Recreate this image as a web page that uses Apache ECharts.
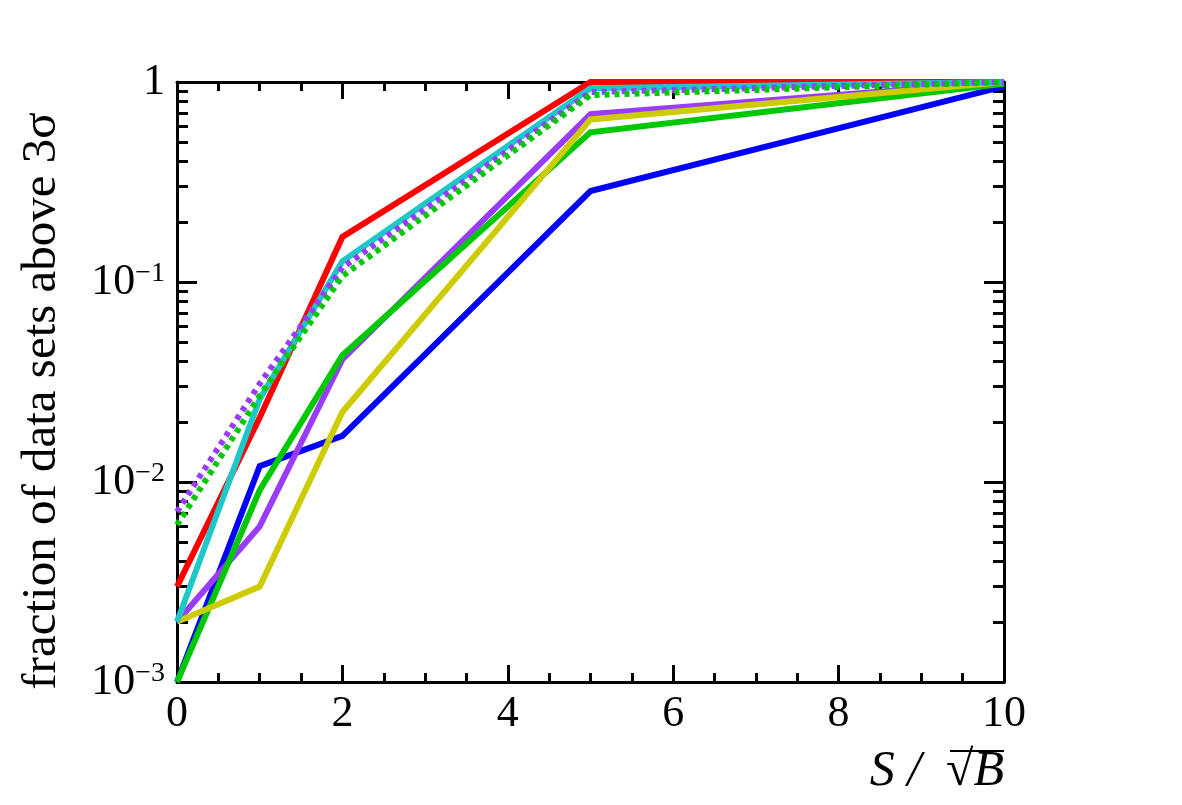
<!DOCTYPE html>
<html>
<head>
<meta charset="utf-8">
<script src="https://cdn.jsdelivr.net/npm/echarts@6/dist/echarts.min.js"></script>
<style>
html,body{margin:0;padding:0;background:#fff;}
#chart{width:1182px;height:805px;}
</style>
</head>
<body>
<div id="chart"></div>
<script>
// ---- data ----
const xValues = [0, 1, 2, 5, 10];
const redLine = [0.003, 0.021, 0.168, 1.0, 1.0];
const cyanLine = [0.002, 0.026, 0.127, 0.93, 1.0];
const violetDotted = [0.0071, 0.031, 0.118, 0.89, 1.0];
const greenDotted = [0.0061, 0.027, 0.107, 0.86, 1.0];
const violetLine = [0.002, 0.006, 0.041, 0.69, 1.0];
const yellowLine = [0.002, 0.003, 0.0224, 0.65, 1.0];
const greenLine = [0.001, 0.0091, 0.043, 0.56, 0.98];
const blueLine = [0.001, 0.012, 0.017, 0.285, 0.95];
const xTickLabels = ['0', '2', '4', '6', '8', '10'];
const yTickLabels = ['10', '10', '10', '1'];
const yTickExponents = ['−3', '−2', '−1', ''];
const xTitleMain = 'S /  √';
const xTitleB = 'B';
const yTitle = 'fraction of data sets above 3σ';

// minor tick positions in log10 space (2..9 per decade)
const minorLogTicks = [];
for (let d = -3; d < 0; d++) {
  for (let k = 2; k <= 9; k++) minorLogTicks.push(Math.log10(k) + d);
}

const FONT = 'Liberation Serif';
const chart = echarts.init(document.getElementById('chart'), null, {renderer: 'canvas'});

function pairs(ys) { return xValues.map((x, i) => [x, ys[i]]); }

function mkSeries(name, ys, color, dotted) {
  return {
    name: name, type: 'line', data: pairs(ys), xAxisIndex: 0, yAxisIndex: 0,
    showSymbol: false, symbol: 'none', animation: false,
    lineStyle: {color: color, width: 6, type: dotted ? [5, 5] : 'solid', cap: 'butt', join: 'miter'}
  };
}

const blackLine = {color: '#000', width: 3};
const gridRect = {left: 177, right: 178, top: 82, bottom: 123, containLabel: false};
const xCommon = {
  type: 'value', min: 0, max: 10, interval: 2, gridIndex: 0,
  axisLine: {show: true, onZero: false, lineStyle: blackLine},
  axisTick: {show: true, inside: true, length: 17, lineStyle: blackLine},
  minorTick: {show: true, splitNumber: 4, length: 9, lineStyle: blackLine},
  splitLine: {show: false}, minorSplitLine: {show: false}
};

const yMajor = {
  type: 'log', logBase: 10, min: 0.001, max: 1, gridIndex: 0,
  axisLine: {show: true, onZero: false, lineStyle: blackLine},
  axisTick: {show: true, inside: true, length: 20, lineStyle: blackLine},
  splitLine: {show: false}
};
const yMinor = {
  type: 'value', min: -3, max: 0, gridIndex: 1,
  axisLine: {show: false, onZero: false},
  axisTick: {show: true, inside: true, length: 11, lineStyle: blackLine, customValues: minorLogTicks},
  axisLabel: {show: false},
  splitLine: {show: false}
};

const option = {
  backgroundColor: '#fff',
  animation: false,
  grid: [Object.assign({}, gridRect), Object.assign({}, gridRect)],
  xAxis: [
    Object.assign({}, xCommon, {
      position: 'bottom',
      axisLabel: {
        show: true, color: '#000', fontFamily: FONT, fontSize: 44, margin: 10,
        formatter: function (v) { return xTickLabels[Math.round(v / 2)]; }
      }
    }),
    Object.assign({}, xCommon, {position: 'top', axisLabel: {show: false}}),
    {type: 'value', min: 0, max: 10, gridIndex: 1, show: false}
  ],
  yAxis: [
    Object.assign({}, yMajor, {
      position: 'left',
      axisLabel: {
        show: true, margin: 12,
        formatter: function (v) {
          const i = Math.round(Math.log10(v)) + 3;
          if (!yTickExponents[i]) return '{b|' + yTickLabels[i] + '}';
          return '{b|' + yTickLabels[i] + '}{s|' + yTickExponents[i] + '}';
        },
        rich: {
          b: {fontFamily: FONT, fontSize: 44, color: '#000'},
          s: {fontFamily: FONT, fontSize: 28, color: '#000', verticalAlign: 'top'}
        }
      }
    }),
    Object.assign({}, yMajor, {position: 'right', axisLabel: {show: false}}),
    Object.assign({}, yMinor, {position: 'left'}),
    Object.assign({}, yMinor, {position: 'right'})
  ],
  graphic: [
    {
      type: 'text', x: 42, y: 401, rotation: Math.PI / 2,
      style: {text: yTitle, fontFamily: FONT, fontSize: 49, fill: '#000', align: 'center', verticalAlign: 'middle'}
    },
    {
      type: 'text', x: 1004, y: 772,
      style: {text: xTitleMain + xTitleB, fontFamily: FONT, fontStyle: 'italic', fontSize: 50, fill: '#000', align: 'right', verticalAlign: 'middle'}
    },
    {
      type: 'line', shape: {x1: 950, y1: 751, x2: 1004, y2: 751},
      style: {stroke: '#000', lineWidth: 2}
    }
  ],
  series: [
    mkSeries('blue', blueLine, '#0000ff', false),
    mkSeries('violet', violetLine, '#9a3cff', false),
    mkSeries('green', greenLine, '#00c800', false),
    mkSeries('yellow', yellowLine, '#cccc00', false),
    mkSeries('red', redLine, '#ff0000', false),
    mkSeries('cyan', cyanLine, '#1fc8c8', false),
    mkSeries('violet dotted', violetDotted, '#9a3cff', true),
    mkSeries('green dotted', greenDotted, '#00c800', true)
  ]
};
chart.setOption(option);
</script>
</body>
</html>
